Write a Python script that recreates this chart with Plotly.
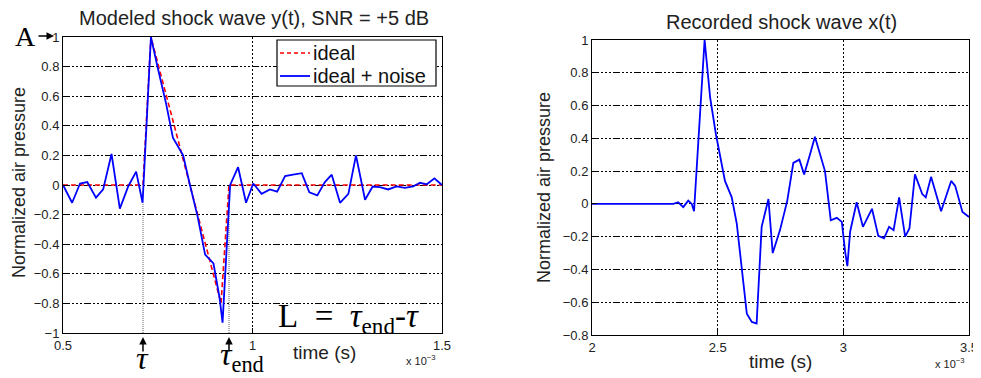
import plotly.graph_objects as go

# ---------------- data (time in units of 1e-3 s) ----------------
# Left panel: modeled shock wave
ideal_t = [0.5, 0.711, 0.732, 0.917, 0.938, 1.5]
ideal_v = [0.0, 0.0, 1.0, -0.8, 0.0, 0.0]

noisy_t = [0.500, 0.524, 0.545, 0.564, 0.587, 0.606, 0.628, 0.650, 0.672, 0.693,
           0.710, 0.732, 0.751, 0.772, 0.790, 0.817, 0.835, 0.855, 0.875, 0.897,
           0.913, 0.921, 0.941, 0.962, 0.983, 1.002, 1.024, 1.046, 1.065, 1.086,
           1.107, 1.130, 1.150, 1.171, 1.191, 1.209, 1.231, 1.253, 1.273, 1.297,
           1.317, 1.336, 1.358, 1.380, 1.402, 1.424, 1.442, 1.460, 1.480, 1.500]
noisy_v = [0.00, -0.12, 0.01, 0.02, -0.085, -0.03, 0.21, -0.16, -0.01, 0.09,
           -0.12, 1.00, 0.78, 0.55, 0.32, 0.20, 0.00, -0.21, -0.47, -0.53,
           -0.76, -0.93, 0.00, 0.12, -0.12, 0.01, -0.06, -0.03, -0.045, 0.06,
           0.07, 0.08, -0.05, -0.07, 0.02, 0.07, -0.12, -0.06, 0.20, -0.10,
           -0.01, -0.015, -0.03, -0.01, -0.02, -0.01, 0.015, 0.005, 0.045, 0.00]

tau = 0.711
tau_end = 0.938
tau_line_top = -0.12
tau_end_line_top = 0.0

# Right panel: recorded shock wave
rec_t = [2.000, 2.324, 2.343, 2.363, 2.383, 2.397, 2.406, 2.448, 2.470, 2.493,
         2.529, 2.556, 2.576, 2.596, 2.616, 2.636, 2.655, 2.675, 2.702, 2.719,
         2.748, 2.777, 2.801, 2.825, 2.844, 2.867, 2.887, 2.927, 2.950, 2.974,
         2.994, 3.007, 3.016, 3.027, 3.053, 3.078, 3.114, 3.139, 3.162, 3.182,
         3.200, 3.222, 3.246, 3.263, 3.285, 3.314, 3.328, 3.349, 3.389, 3.429,
         3.445, 3.474, 3.500]
rec_v = [0.00, 0.00, 0.01, -0.02, 0.02, 0.00, -0.045, 1.00, 0.65, 0.425,
         0.14, 0.04, -0.12, -0.405, -0.67, -0.72, -0.73, -0.14, 0.03, -0.30,
         -0.16, 0.02, 0.25, 0.27, 0.18, 0.30, 0.41, 0.20, -0.10, -0.085,
         -0.11, -0.29, -0.38, -0.17, 0.01, -0.14, -0.03, -0.195, -0.21, -0.14,
         -0.16, 0.04, -0.20, -0.15, 0.18, 0.06, 0.04, 0.165, -0.045, 0.14,
         0.11, -0.05, -0.08]

left_xticks = [0.5, 1, 1.5]
right_xticks = [2, 2.5, 3, 3.5]
legend_labels = ["ideal", "ideal + noise"]

# page body has an 8px margin; the figure is sized to fill the rest of the window
OFF = 8
W, H = 981 - OFF, 378 - OFF


def px(x):
    return (x - OFF) / W


def py(y):
    return 1 - (y - OFF) / H


SANS = "Liberation Sans, Arial, sans-serif"
SERIF = "Liberation Serif, Times New Roman, serif"
RED = "#ff0000"
BLUE = "#0000ff"
RED_DASH = "5px,3px"

fig = go.Figure()
fig.add_trace(go.Scatter(x=ideal_t, y=ideal_v, mode="lines", name=legend_labels[0],
                         line=dict(color=RED, width=1.6, dash=RED_DASH),
                         xaxis="x", yaxis="y"))
fig.add_trace(go.Scatter(x=noisy_t, y=noisy_v, mode="lines", name=legend_labels[1],
                         line=dict(color=BLUE, width=1.8),
                         xaxis="x", yaxis="y"))
fig.add_trace(go.Scatter(x=rec_t, y=rec_v, mode="lines",
                         line=dict(color=BLUE, width=1.8),
                         xaxis="x2", yaxis="y2"))

hgrid = "7px,2px,2px,2px,2px,2px,2px,2px"
axis_common = dict(showline=True, linecolor="black", linewidth=1, mirror=True,
                   ticks="inside", ticklen=5, tickcolor="black",
                   tickfont=dict(family=SANS, size=13, color="#222"),
                   showgrid=True, gridcolor="black", gridwidth=1,
                   zeroline=False, fixedrange=True, automargin=False)

fig.update_layout(
    template="none",
    width=W, height=H, autosize=False,
    margin=dict(l=0, r=0, t=0, b=0, pad=0, autoexpand=False),
    paper_bgcolor="white", plot_bgcolor="white",
    xaxis=dict(domain=[px(63), px(442)], range=[0.5, 1.5], tickvals=left_xticks,
               ticktext=["0.5", "1", "1.5"], griddash="2px,2px", anchor="y", **axis_common),
    yaxis=dict(domain=[py(333), py(37)], range=[-1, 1], dtick=0.2, tick0=0,
               griddash=hgrid, anchor="x", **axis_common),
    xaxis2=dict(domain=[px(592), px(969)], range=[2, 3.5], tickvals=right_xticks,
                ticktext=["2", "2.5", "3", "3.5"], griddash="2px,2px", anchor="y2", **axis_common),
    yaxis2=dict(domain=[py(335), py(40)], range=[-0.8, 1], dtick=0.2, tick0=0,
                griddash=hgrid, anchor="x2", **axis_common),
    showlegend=False,
)

# Gray dotted lines at tau and tau_end
fig.add_shape(type="line", xref="x", yref="y", x0=tau, x1=tau, y0=-1, y1=tau_line_top,
              line=dict(color="#b0b0b0", width=2, dash="1px,1px"), layer="below")
fig.add_shape(type="line", xref="x", yref="y", x0=tau_end, x1=tau_end, y0=-1, y1=tau_end_line_top,
              line=dict(color="#b0b0b0", width=2, dash="1px,1px"), layer="below")

# Legend box (MATLAB style)
fig.add_shape(type="rect", xref="paper", yref="paper", x0=px(277), x1=px(436), y0=py(86), y1=py(40),
              line=dict(color="black", width=1.2), fillcolor="white", layer="above")
fig.add_shape(type="line", xref="paper", yref="paper", x0=px(280), x1=px(310), y0=py(53), y1=py(53),
              line=dict(color=RED, width=1.6, dash="4px,3px"), layer="above")
fig.add_shape(type="line", xref="paper", yref="paper", x0=px(280), x1=px(310), y0=py(76), y1=py(76),
              line=dict(color=BLUE, width=1.8), layer="above")

ann = []
ann.append(dict(text=legend_labels[0], x=px(311), y=py(53), xanchor="left",
                font=dict(family=SANS, size=20, color="#111")))
ann.append(dict(text=legend_labels[1], x=px(311), y=py(76), xanchor="left",
                font=dict(family=SANS, size=20, color="#111")))
# titles
ann.append(dict(text="Modeled shock wave y(t), SNR = +5 dB", x=px(254), y=py(18),
                font=dict(family=SANS, size=20, color="#222")))
ann.append(dict(text="Recorded shock wave x(t)", x=px(781), y=py(22),
                font=dict(family=SANS, size=20, color="#222")))
# x titles
ann.append(dict(text="time (s)", x=px(324), y=py(352), font=dict(family=SANS, size=19, color="#222")))
ann.append(dict(text="time (s)", x=px(780), y=py(361), font=dict(family=SANS, size=19, color="#222")))
# y titles
ann.append(dict(text="Normalized air pressure", x=px(19), y=py(183), textangle=-90,
                font=dict(family=SANS, size=18, color="#222")))
ann.append(dict(text="Normalized air pressure", x=px(544), y=py(188), textangle=-90,
                font=dict(family=SANS, size=18, color="#222")))
# exponent labels
ann.append(dict(text="x 10<sup>−3</sup>", x=px(421), y=py(360), font=dict(family=SANS, size=11, color="#222")))
ann.append(dict(text="x 10<sup>−3</sup>", x=px(950), y=py(363), font=dict(family=SANS, size=11, color="#222")))
# A with arrow
ann.append(dict(text="A", x=px(25), y=py(37), font=dict(family=SERIF, size=28, color="black")))
ann.append(dict(text="", x=px(54), y=py(36), ax=-17, ay=0,
                showarrow=True, arrowhead=2, arrowsize=1, arrowwidth=1.5, arrowcolor="black"))
# tau arrows
ann.append(dict(text="", x=tau, xref="x", y=py(337), yref="paper", ax=0, ay=16,
                showarrow=True, arrowhead=2, arrowsize=1, arrowwidth=1.5, arrowcolor="black"))
ann.append(dict(text="", x=tau_end, xref="x", y=py(337), yref="paper", ax=0, ay=16,
                showarrow=True, arrowhead=2, arrowsize=1, arrowwidth=1.5, arrowcolor="black"))
ann.append(dict(text="<i>τ</i>", x=tau, xref="x", y=py(358), yref="paper",
                font=dict(family=SERIF, size=32, color="black")))
ann.append(dict(text="<i>τ</i><sub>end</sub>", x=tau_end + 0.035, xref="x", y=py(356), yref="paper",
                font=dict(family=SERIF, size=32, color="black")))
ann.append(dict(text="L&nbsp;&nbsp;=&nbsp;&nbsp;<i>τ</i><sub>end</sub>-<i>τ</i>", x=px(348), y=py(318),
                font=dict(family=SERIF, size=33, color="black")))

for a in ann:
    a.setdefault("xref", "paper")
    a.setdefault("yref", "paper")
    a.setdefault("showarrow", False)
    a.setdefault("xanchor", "center")
    a.setdefault("yanchor", "middle")
fig.update_layout(annotations=ann)

fig.write_html("out.html")
